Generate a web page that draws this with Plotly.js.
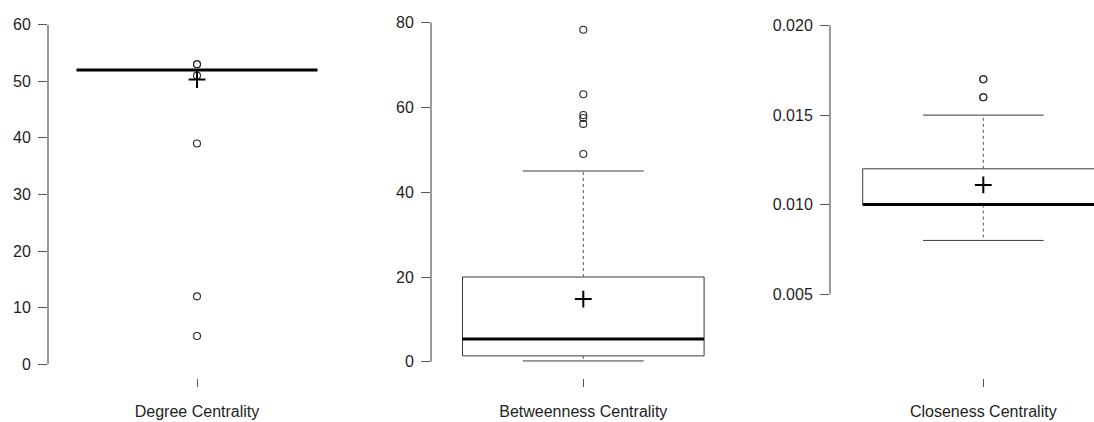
<!DOCTYPE html>
<html>
<head>
<meta charset="utf-8">
<script src="https://cdn.plot.ly/plotly-3.0.1.min.js"></script>
<style>
  html, body { margin: 0; padding: 0; background: #ffffff; }
  #chart { width: 1094px; height: 422px; }
</style>
</head>
<body>
<div id="chart"></div>
<script>
// ---- data ----
const categories   = ['Degree Centrality', 'Betweenness Centrality', 'Closeness Centrality'];
const q1Values     = [52, 1.4, 0.010];
const medianValues = [52, 5.4, 0.010];
const q3Values     = [52, 20, 0.012];
const lowerWhisker = [52, 0.2, 0.008];
const upperWhisker = [52, 45, 0.015];
const meanValues   = [50.3, 14.8, 0.0111];
const outlierDegree      = [53, 53, 51, 39, 12, 5];
const outlierBetweenness = [78.3, 63.1, 58.2, 57.5, 56.1, 49.0];
const outlierCloseness   = [0.017, 0.017, 0.016, 0.016];
const degreeTicks      = [0, 10, 20, 30, 40, 50, 60];
const degreeTickText   = ['0', '10', '20', '30', '40', '50', '60'];
const betweenTicks     = [0, 20, 40, 60, 80];
const betweenTickText  = ['0', '20', '40', '60', '80'];
const closeTicks       = [0.005, 0.010, 0.015, 0.020];
const closeTickText    = ['0.005', '0.010', '0.015', '0.020'];

const outliers  = [outlierDegree, outlierBetweenness, outlierCloseness];
const tickVals  = [degreeTicks, betweenTicks, closeTicks];
const tickTexts = [degreeTickText, betweenTickText, closeTickText];

// ---- layout geometry (pixels) ----
const W = 1094, H = 422;
const axisPx   = [48, 431, 830];      // y-axis line position (domain left)
const rightPx  = [348, 735, 1094];    // domain right
const centerPx = [197, 583.3, 983.3]; // box centre
const ppu      = [301, 302, 301.5];   // pixels per x unit
const yRanges  = [[-2.42, 62.41], [-3.82, 82.73], [0.000316, 0.020815]];

const boxHalf = 0.4, capHalf = 0.2;
const boxColor = '#3a3a3a';
const textColor = '#1e1e1e';
const fontFam = '"Liberation Sans", Arial, Helvetica, sans-serif';

const traces = [];
const layout = {
  width: W, height: H,
  margin: {l: 0, r: 0, t: 11, b: 44, pad: 0},
  paper_bgcolor: '#ffffff', plot_bgcolor: 'rgba(0,0,0,0)',
  showlegend: false,
  font: {family: fontFam, size: 16, color: textColor},
  shapes: []
};

for (let i = 0; i < 3; i++) {
  const sfx = i === 0 ? '' : String(i + 1);
  const xa = 'x' + sfx, ya = 'y' + sfx;
  const c = 1;
  // box
  traces.push({
    type: 'scatter', mode: 'lines', xaxis: xa, yaxis: ya, hoverinfo: 'skip',
    x: [c - boxHalf, c + boxHalf, c + boxHalf, c - boxHalf, c - boxHalf],
    y: [q1Values[i], q1Values[i], q3Values[i], q3Values[i], q1Values[i]],
    line: {color: boxColor, width: 1}
  });
  // whiskers (dashed)
  traces.push({
    type: 'scatter', mode: 'lines', xaxis: xa, yaxis: ya, hoverinfo: 'skip',
    x: [c, c, null, c, c],
    y: [q3Values[i], upperWhisker[i], null, q1Values[i], lowerWhisker[i]],
    line: {color: '#555555', width: 1, dash: '3px,3px'}
  });
  // whisker caps
  traces.push({
    type: 'scatter', mode: 'lines', xaxis: xa, yaxis: ya, hoverinfo: 'skip',
    x: [c - capHalf, c + capHalf, null, c - capHalf, c + capHalf],
    y: [upperWhisker[i], upperWhisker[i], null, lowerWhisker[i], lowerWhisker[i]],
    line: {color: boxColor, width: 1}
  });
  // median
  traces.push({
    type: 'scatter', mode: 'lines', xaxis: xa, yaxis: ya, hoverinfo: 'skip',
    x: [c - boxHalf, c + boxHalf],
    y: [medianValues[i], medianValues[i]],
    line: {color: '#000000', width: 3}
  });
  // outliers
  traces.push({
    type: 'scatter', mode: 'markers', xaxis: xa, yaxis: ya, hoverinfo: 'skip',
    x: outliers[i].map(() => c), y: outliers[i], cliponaxis: false,
    marker: {symbol: 'circle-open', size: 7, color: '#2a2a2a', line: {width: 1.1, color: '#2a2a2a'}}
  });
  // mean
  traces.push({
    type: 'scatter', mode: 'markers', xaxis: xa, yaxis: ya, hoverinfo: 'skip',
    x: [c], y: [meanValues[i]], cliponaxis: false,
    marker: {symbol: 'cross-thin-open', size: 12, color: '#000000', line: {width: 2, color: '#000000'}}
  });

  const left = 1 - (centerPx[i] - axisPx[i]) / ppu[i];
  const right = 1 + (rightPx[i] - centerPx[i]) / ppu[i];
  layout['xaxis' + sfx] = {
    domain: [axisPx[i] / W, rightPx[i] / W],
    range: [left, right], anchor: ya,
    showgrid: false, zeroline: false, showline: false,
    tickmode: 'array', tickvals: [1], ticktext: [categories[i]],
    ticks: 'outside', ticklen: 8, tickwidth: 1, tickcolor: '#555555',
    ticklabelstandoff: 11,
    tickfont: {family: fontFam, size: 16, color: textColor},
    automargin: false, fixedrange: true
  };
  layout['yaxis' + sfx] = {
    domain: [0, 1], range: yRanges[i], anchor: xa,
    showgrid: false, zeroline: false, showline: false,
    tickmode: 'array', tickvals: tickVals[i], ticktext: tickTexts[i],
    ticks: 'outside', ticklen: 9, tickwidth: 1, tickcolor: '#555555',
    ticklabelstandoff: 4,
    tickfont: {family: fontFam, size: 16, color: textColor},
    automargin: false, fixedrange: true
  };
  // R-style axis line spanning first to last tick
  layout.shapes.push({
    type: 'line', xref: xa + ' domain', yref: ya,
    x0: 0, x1: 0, y0: tickVals[i][0], y1: tickVals[i][tickVals[i].length - 1],
    line: {color: '#555555', width: 1.2}
  });
}

Plotly.newPlot('chart', traces, layout, {displayModeBar: false, staticPlot: true});
</script>
</body>
</html>
